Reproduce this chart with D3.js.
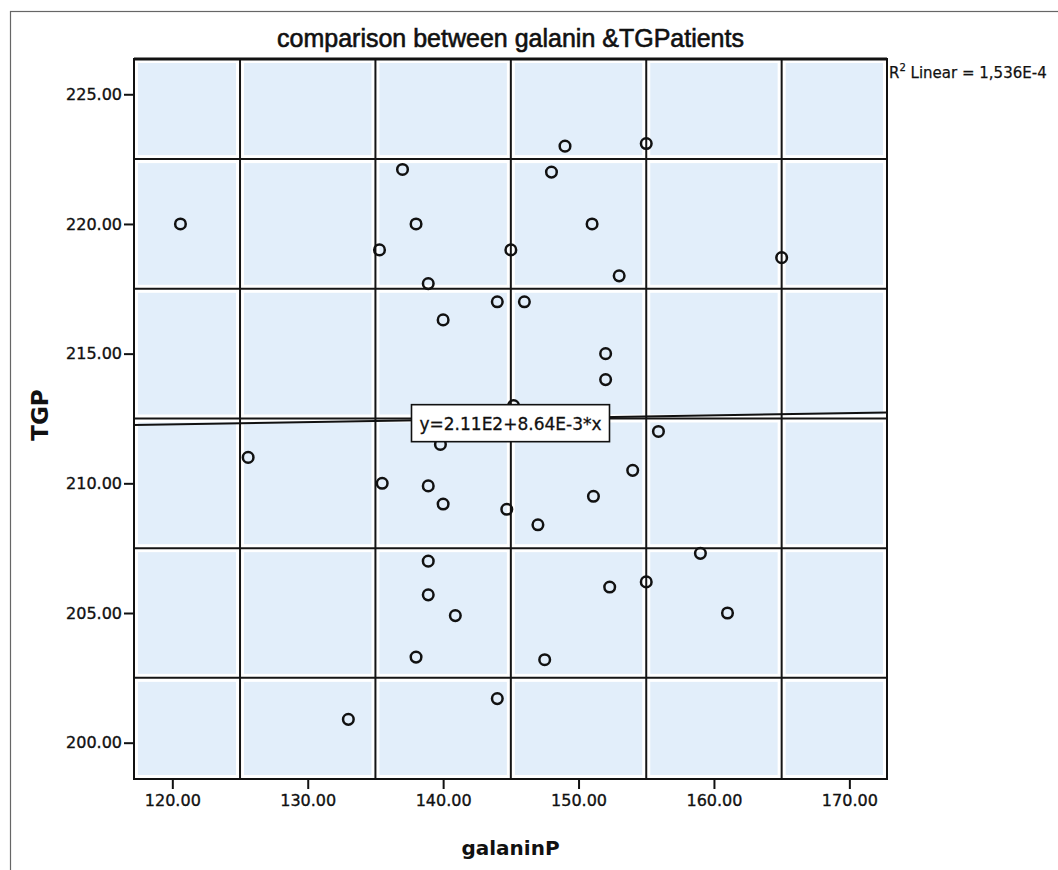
<!DOCTYPE html>
<html>
<head>
<meta charset="utf-8">
<script src="https://cdn.jsdelivr.net/npm/d3@7"></script>
<style>
  body { margin: 0; background: #fff; }
  text { font-family: "DejaVu Sans", sans-serif; fill: #111; }
</style>
</head>
<body>
<div id="chart"></div>
<script>
(function() {

  // values
  var galaninP = [120.6, 125.6, 133.0, 137.0, 138.0, 135.3, 138.9, 140.0, 139.8, 135.5,
                  138.9, 140.0, 138.9, 138.9, 140.9, 138.0, 144.0, 144.0, 145.0, 146.0,
                  145.2, 144.7, 147.0, 148.0, 149.0, 151.0, 153.0, 152.0, 152.0, 151.1,
                  154.0, 155.9, 155.0, 165.0, 159.0, 152.3, 155.0, 161.0, 147.5];
  var TGP = [220.0, 211.0, 200.9, 222.1, 220.0, 219.0, 217.7, 216.3, 211.5, 210.0,
             209.9, 209.2, 207.0, 205.7, 204.9, 203.3, 201.7, 217.0, 219.0, 217.0,
             213.0, 209.0, 208.4, 222.0, 223.0, 220.0, 218.0, 215.0, 214.0, 209.5,
             210.5, 212.0, 223.1, 218.7, 207.3, 206.0, 206.2, 205.0, 203.2];

  var xTicks = [120, 130, 140, 150, 160, 170];
  var yTicks = [200, 205, 210, 215, 220, 225];
  var xGrid = [125, 135, 145, 155, 165];
  var yGrid = [202.5, 207.5, 212.5, 217.5, 222.5];

  var fitIntercept = 211.24, fitSlope = 0.00864;
  var title = "comparison between galanin &TGPatients";
  var fitLabel = "y=2.11E2+8.64E-3*x";
  var r2Value = "1,536E-4";

  var width = 1058, height = 870;
  var left = 134, right = 887, top = 59, bottom = 779;

  var x = d3.scaleLinear().domain([117.17, 172.78]).range([left, right]);
  var y = d3.scaleLinear().domain([198.6, 226.36]).range([bottom, top]);

  var svg = d3.select("#chart").append("svg")
      .attr("width", width)
      .attr("height", height);

  // outer frame
  svg.append("rect")
      .attr("x", 10.5).attr("y", 11.5)
      .attr("width", width + 20).attr("height", height + 20)
      .attr("fill", "none")
      .attr("stroke", "#666")
      .attr("stroke-width", 1.2);

  // shaded cells between grid lines
  var xb = [x.domain()[0]].concat(xGrid, [x.domain()[1]]);
  var yb = [y.domain()[0]].concat(yGrid, [y.domain()[1]]);
  var cells = [];
  for (var i = 0; i < xb.length - 1; i++) {
    for (var j = 0; j < yb.length - 1; j++) {
      cells.push({x0: xb[i], x1: xb[i + 1], y0: yb[j], y1: yb[j + 1]});
    }
  }
  var pad = 4;
  svg.append("g").selectAll("rect")
    .data(cells)
    .enter().append("rect")
      .attr("x", d => x(d.x0) + pad)
      .attr("y", d => y(d.y1) + pad)
      .attr("width", d => x(d.x1) - x(d.x0) - 2 * pad)
      .attr("height", d => y(d.y0) - y(d.y1) - 2 * pad)
      .attr("fill", "#e2eefa");

  // grid lines
  svg.append("g").selectAll("line")
    .data(xGrid)
    .enter().append("line")
      .attr("x1", d => x(d)).attr("x2", d => x(d))
      .attr("y1", top).attr("y2", bottom)
      .attr("stroke", "#151515").attr("stroke-width", 2);
  svg.append("g").selectAll("line")
    .data(yGrid)
    .enter().append("line")
      .attr("y1", d => y(d)).attr("y2", d => y(d))
      .attr("x1", left).attr("x2", right)
      .attr("stroke", "#151515").attr("stroke-width", 2);

  // plot border
  svg.append("rect")
      .attr("x", left).attr("y", top)
      .attr("width", right - left).attr("height", bottom - top)
      .attr("fill", "none")
      .attr("stroke", "#111")
      .attr("stroke-width", 2);
  svg.append("line")
      .attr("x1", left).attr("x2", right)
      .attr("y1", top).attr("y2", top)
      .attr("stroke", "#111").attr("stroke-width", 3);

  // axes
  var xAxis = svg.append("g")
      .attr("transform", "translate(0," + bottom + ")")
      .call(d3.axisBottom(x).tickValues(xTicks).tickSize(10).tickPadding(6).tickFormat(d3.format(".2f")));
  var yAxis = svg.append("g")
      .attr("transform", "translate(" + left + ",0)")
      .call(d3.axisLeft(y).tickValues(yTicks).tickSize(10).tickPadding(2).tickFormat(d3.format(".2f")));
  [xAxis, yAxis].forEach(function(a) {
    a.select(".domain").remove();
    a.selectAll(".tick line").attr("stroke", "#111").attr("stroke-width", 2);
    a.selectAll(".tick text")
        .style("font-family", "'DejaVu Sans', sans-serif")
        .style("font-size", "16px")
        .attr("fill", "#111")
        .attr("stroke", "#111")
        .attr("stroke-width", 0.35);
  });

  // fit line
  svg.append("line")
      .attr("x1", x(x.domain()[0])).attr("y1", y(fitIntercept + fitSlope * x.domain()[0]))
      .attr("x2", x(x.domain()[1])).attr("y2", y(fitIntercept + fitSlope * x.domain()[1]))
      .attr("stroke", "#111")
      .attr("stroke-width", 2);

  // points
  var pts = galaninP.map((v, k) => ({x: v, y: TGP[k]}));
  svg.append("g").selectAll("circle")
    .data(pts)
    .enter().append("circle")
      .attr("cx", d => x(d.x))
      .attr("cy", d => y(d.y))
      .attr("r", 5.3)
      .attr("fill", "none")
      .attr("stroke", "#111")
      .attr("stroke-width", 2.5);

  // equation box
  var midX = (x.domain()[0] + x.domain()[1]) / 2;
  var bx = x(midX), by = y(fitIntercept + fitSlope * midX) + 5;
  var box = svg.append("g").attr("transform", "translate(" + bx + "," + by + ")");
  box.append("rect")
      .attr("x", -99).attr("y", -19)
      .attr("width", 198).attr("height", 37)
      .attr("fill", "#fff")
      .attr("stroke", "#111")
      .attr("stroke-width", 1.6);
  box.append("text")
      .attr("text-anchor", "middle")
      .attr("y", 6)
      .style("font-size", "17px")
      .attr("stroke", "#111")
      .attr("stroke-width", 0.3)
      .text(fitLabel);

  // R2 note
  var r2 = svg.append("text")
      .attr("x", 889).attr("y", 78)
      .style("font-size", "15px")
      .attr("stroke", "#111")
      .attr("stroke-width", 0.25);
  r2.append("tspan").text("R");
  r2.append("tspan").attr("dy", -7).style("font-size", "10px").text("2");
  r2.append("tspan").attr("dy", 7).text(" Linear = " + r2Value);

  // title and axis titles
  svg.append("text")
      .attr("x", (left + right) / 2).attr("y", 47)
      .attr("text-anchor", "middle")
      .style("font-family", "'Liberation Sans', Arial, sans-serif")
      .style("font-size", "25px")
      .attr("stroke", "#111")
      .attr("stroke-width", 0.6)
      .text(title);

  svg.append("text")
      .attr("x", (left + right) / 2).attr("y", 855)
      .attr("text-anchor", "middle")
      .style("font-size", "20px")
      .style("font-weight", "bold")
      .text("galaninP");

  svg.append("text")
      .attr("transform", "translate(48," + 415 + ") rotate(-90)")
      .attr("text-anchor", "middle")
      .style("font-size", "23px")
      .style("font-weight", "bold")
      .text("TGP");

})();
</script>
</body>
</html>
